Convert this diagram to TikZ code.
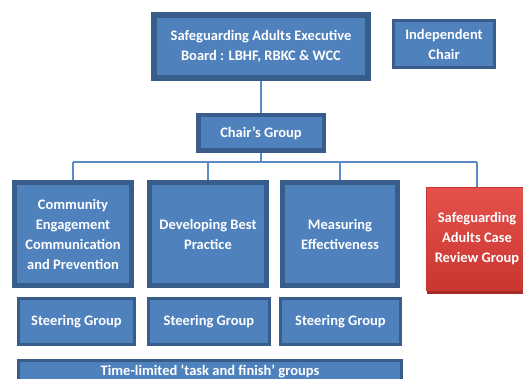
\documentclass[tikz,border=0pt]{standalone}
\usepackage{fontspec}
\setmainfont{Carlito}
\definecolor{bfill}{HTML}{4F81BD}
\definecolor{bdark}{HTML}{385D8A}
\definecolor{lblue}{HTML}{5B8CC8}
\definecolor{rtop}{HTML}{E5514B}
\definecolor{rbot}{HTML}{C93530}
\definecolor{rdark}{HTML}{A52A26}
\begin{document}
\begin{tikzpicture}[x=1pt,y=-1pt,
  box/.style={draw=bdark, fill=bfill, text=white, align=center,
    font=\fontsize{14.5}{20}\selectfont\bfseries, inner sep=0pt},
  conn/.style={draw=lblue, line width=2pt}]
\useasboundingbox (0,0) rectangle (523,379);
\clip (0,0) rectangle (523,379);
\node[box, line width=6pt, minimum width=214pt, minimum height=63pt] (exec) at (261,46.5)
  {Safeguarding Adults Executive\\Board : LBHF, RBKC \& WCC};
\node[box, line width=3pt, minimum width=101pt, minimum height=47pt] (indep) at (444,44)
  {Independent\\Chair};
\node[box, line width=4.5pt, minimum width=125.5pt, minimum height=35.5pt] (chair) at (261,133)
  {Chair's Group};
\node[box, line width=5pt, minimum width=117pt, minimum height=103pt] (c1) at (73,234)
  {Community\\Engagement\\Communication\\and Prevention};
\node[box, line width=5pt, minimum width=117pt, minimum height=103pt] (c2) at (208,234)
  {Developing Best\\Practice};
\node[box, line width=5pt, minimum width=115pt, minimum height=103pt] (c3) at (340,234)
  {Measuring\\Effectiveness};
\fill[rdark] (427,289) rectangle (529,294);
\node[draw=rbot, line width=1pt, top color=rtop, bottom color=rbot, text=white, align=center,
  font=\fontsize{14.5}{20}\selectfont\bfseries, inner sep=0pt, minimum width=101pt, minimum height=103pt]
  (red) at (477,239) {Safeguarding\\Adults Case\\Review Group};
\node[box, line width=3pt, minimum width=116pt, minimum height=46pt] (s1) at (76.5,321.5) {Steering Group};
\node[box, line width=3pt, minimum width=121pt, minimum height=46pt] (s2) at (209,321.5) {Steering Group};
\node[box, line width=3pt, minimum width=120pt, minimum height=46pt] (s3) at (340.5,321.5) {Steering Group};
\node[box, line width=3pt, minimum width=383pt, minimum height=21pt] (tl) at (210,371.5)
  {Time-limited ‘task and finish’ groups};
\coordinate (bus) at (0,162);
\draw[conn] (exec.south) -- (chair.north);
\draw[conn] (chair.south) -- (chair.south |- bus);
\draw[conn] (c1.north |- bus) -- (red.north |- bus);
\draw[conn] (c1.north |- bus) -- (c1.north);
\draw[conn] (c2.north |- bus) -- (c2.north);
\draw[conn] (c3.north |- bus) -- (c3.north);
\draw[conn] (red.north |- bus) -- (red.north);
\end{tikzpicture}
\end{document}
